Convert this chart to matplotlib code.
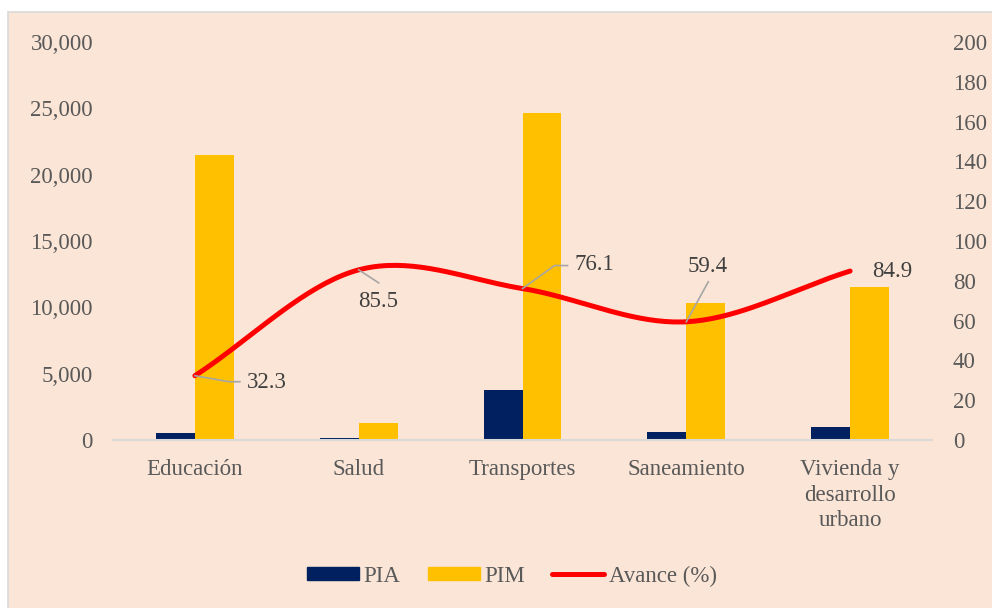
import matplotlib.pyplot as plt
import matplotlib.patches as mpatches
import numpy as np
from matplotlib.ticker import FuncFormatter

# Data
categories = ["Educación", "Salud", "Transportes", "Saneamiento", "Vivienda y\ndesarrollo\nurbano"]
pia = [550, 150, 3800, 600, 1000]
pim = [21500, 1250, 24650, 10300, 11500]
avance = [32.3, 85.5, 76.1, 59.4, 84.9]

# label offsets in pixels (dx, dy with y downward), leader vertices
label_offsets = [(52, 7, "left"), (19, 32, "center"), (52, -24, "left"), (21, -55, "center"), (22, 0, "left")]
leaders = [[(0, 0), (34, 6), (45, 6)], [(0, 0), (20, 13)], [(0, 0), (32, -23), (45, -23)], [(0, 0), (22, -40)], []]

BG = "#FBE5D6"
TXT = "#595959"
plt.rcParams["font.family"] = ["Liberation Serif", "DejaVu Serif"]
FS = 16.5


def smooth(xs, ys, n=40):
    """Catmull-Rom style smoothing like Excel's smoothed line."""
    xs = np.asarray(xs, float)
    ys = np.asarray(ys, float)
    px, py = [], []
    for i in range(len(xs) - 1):
        y0 = ys[i - 1] if i > 0 else ys[i]
        y3 = ys[i + 2] if i + 2 < len(ys) else ys[i + 1]
        m1 = (ys[i + 1] - y0) / (2 if i > 0 else 1)
        m2 = (y3 - ys[i]) / (2 if i + 2 < len(ys) else 1)
        t = np.linspace(0, 1, n)
        h00 = 2 * t**3 - 3 * t**2 + 1
        h10 = t**3 - 2 * t**2 + t
        h01 = -2 * t**3 + 3 * t**2
        h11 = t**3 - t**2
        px.extend(xs[i] + t * (xs[i + 1] - xs[i]))
        py.extend(h00 * ys[i] + h10 * m1 + h01 * ys[i + 1] + h11 * m2)
    return px, py


fig = plt.figure(figsize=(9.92, 6.08), dpi=100, facecolor="white")
fig.patches.append(mpatches.Rectangle((8 / 992, -0.01), 1.0, 1 - 12 / 608 + 0.01,
                                      transform=fig.transFigure, facecolor=BG,
                                      edgecolor="#D9D9D9", linewidth=1.2, zorder=-10))

ax = fig.add_axes([113 / 992, 1 - 440 / 608, (932 - 113) / 992, (440 - 42) / 608])
ax.set_facecolor("none")
x = np.arange(len(categories))
w = 0.238
ax.bar(x - w / 2, pia, w, color="#002060", label="PIA")
ax.bar(x + w / 2, pim, w, color="#FFC000", label="PIM")
ax.set_xlim(-0.5, len(categories) - 0.5)
ax.set_ylim(0, 30000)
ax.set_yticks(np.arange(0, 30001, 5000))
ax.yaxis.set_major_formatter(FuncFormatter(lambda v, p: f"{v:,.0f}"))
ax.set_xticks(x)
ax.set_xticklabels(categories, linespacing=1.28)
ax.tick_params(axis="y", length=0, pad=14.4, labelsize=FS, labelcolor=TXT)
ax.tick_params(axis="x", length=0, pad=14, labelsize=FS, labelcolor=TXT)
for s in ["top", "right", "left"]:
    ax.spines[s].set_visible(False)
ax.spines["bottom"].set_color("#D9D9D9")
ax.spines["bottom"].set_linewidth(1.5)

ax2 = ax.twinx()
ax2.set_ylim(0, 200)
ax2.set_yticks(np.arange(0, 201, 20))
ax2.tick_params(axis="y", length=0, pad=15, labelsize=FS, labelcolor=TXT)
for s in ax2.spines.values():
    s.set_visible(False)
sx, sy = smooth(x, avance)
line, = ax2.plot(sx, sy, color="#FF0000", linewidth=3.6, solid_capstyle="round", label="Avance (%)")

# data labels with leader lines
inv = ax2.transData.inverted()
for i, v in enumerate(avance):
    px0, py0 = ax2.transData.transform((x[i], v))
    if leaders[i]:
        pts = [inv.transform((px0 + dx, py0 - dy)) for dx, dy in leaders[i]]
        ax2.plot([p[0] for p in pts], [p[1] for p in pts], color="#A6A6A6", linewidth=1.2, zorder=4)
    dx, dy, ha = label_offsets[i]
    ax2.annotate(f"{v:.1f}", (x[i], v), xytext=(dx, -dy), textcoords="offset pixels",
                 ha=ha, va="center", fontsize=FS, color="#404040", zorder=5)

handles = [mpatches.Patch(color="#002060", label="PIA"),
           mpatches.Patch(color="#FFC000", label="PIM"), line]
leg = fig.legend(handles=handles, loc="center", bbox_to_anchor=(512 / 992, 1 - 576 / 608), ncol=3,
                 frameon=False, fontsize=FS, handlelength=2.25, handleheight=0.5,
                 handletextpad=0.2, columnspacing=1.2, labelcolor=TXT)

fig.savefig("out.png", dpi=100, facecolor=fig.get_facecolor())
